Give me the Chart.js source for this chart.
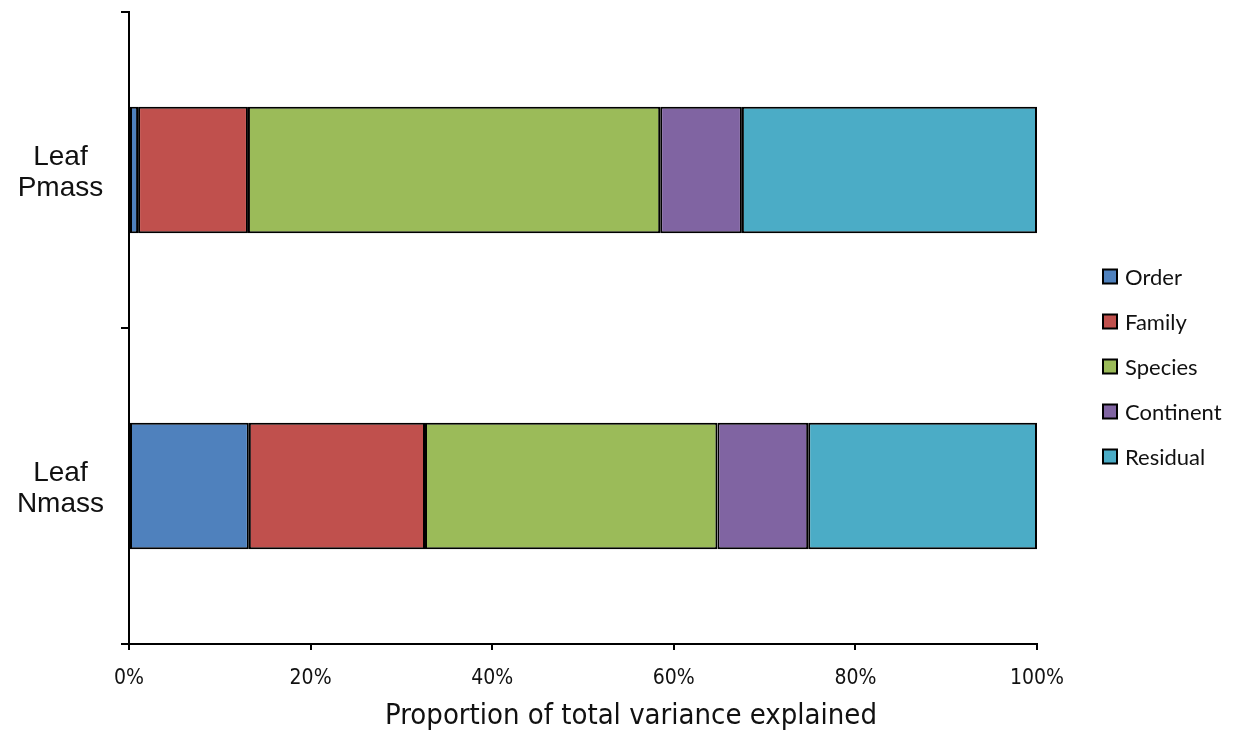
<!DOCTYPE html>
<html>
<head>
<meta charset="utf-8">
<script src="https://cdn.jsdelivr.net/npm/chart.js@4/dist/chart.umd.min.js"></script>
<style>
  html, body { margin: 0; padding: 0; background: #fff; }
  #wrap { width: 1238px; height: 733px; }
</style>
</head>
<body>
<div id="wrap"><canvas id="c" width="1238" height="733"></canvas></div>
<script>
// Traits (rows) and variance components (stacked segments), in percent
const traits = [["Leaf", "Pmass"], ["Leaf", "Nmass"]];
const components = ["Order", "Family", "Species", "Continent", "Residual"];
const order     = [1.0, 13.2];
const family    = [12.1, 19.4];
const species   = [45.4, 32.2];
const continent = [9.0, 10.0];
const residual  = [32.5, 25.2];
const xTicks = [0, 20, 40, 60, 80, 100];
const xTitle = "Proportion of total variance explained";

const colors = ["#4F81BD", "#C0504D", "#9BBB59", "#8064A2", "#4BACC6"];
const seriesValues = [order, family, species, continent, residual];

const datasets = components.map((name, i) => ({
  label: name,
  data: seriesValues[i],
  backgroundColor: colors[i],
  borderColor: "#000",
  borderWidth: 2,
  borderSkipped: false,
  categoryPercentage: 1.0,
  barPercentage: 0.4
}));

const narrow = "'Liberation Sans Narrow', 'Arial Narrow', 'DejaVu Sans Condensed', sans-serif";

// Legend at the right and the x-axis title, centred under the whole figure
const sideLegend = {
  id: "sideLegend",
  afterDraw(chart) {
    const ctx = chart.ctx;
    const area = chart.chartArea;
    const x = area.right + 66;
    const mid = chart.height / 2;
    const gap = 45;
    const n = chart.data.datasets.length;
    ctx.save();
    ctx.font = "22px Lato, 'Open Sans', sans-serif";
    ctx.textBaseline = "middle";
    ctx.textAlign = "left";
    chart.data.datasets.forEach((ds, i) => {
      const cy = mid + (i - (n - 1) / 2) * gap;
      ctx.fillStyle = ds.backgroundColor;
      ctx.fillRect(x, cy - 7, 14, 14);
      ctx.strokeStyle = "#000";
      ctx.lineWidth = 2;
      ctx.strokeRect(x, cy - 7, 14, 14);
      ctx.fillStyle = "#111";
      ctx.fillText(ds.label, x + 22, cy + 1);
    });

    ctx.font = "29px " + narrow;
    ctx.textAlign = "center";
    ctx.fillStyle = "#111";
    ctx.fillText(xTitle, (area.left + area.right) / 2 + 48, chart.height - 17);
    ctx.restore();
  }
};

new Chart(document.getElementById("c"), {
  type: "bar",
  data: { labels: traits, datasets },
  options: {
    indexAxis: "y",
    responsive: false,
    animation: false,
    devicePixelRatio: 1,
    layout: { padding: { top: 12, right: 201, left: 0, bottom: 0 } },
    plugins: {
      legend: { display: false },
      tooltip: { enabled: false }
    },
    scales: {
      x: {
        stacked: true,
        min: 0,
        max: 100,
        afterBuildTicks(axis) { axis.ticks = xTicks.map(v => ({ value: v })); },
        afterFit(axis) { axis.height = 89; axis.paddingLeft = 0; axis.paddingRight = 0; },
        border: { display: true, color: "#000", width: 2 },
        grid: { drawOnChartArea: false, color: "#000", lineWidth: 2, tickLength: 6 },
        ticks: {
          color: "#111",
          padding: 16,
          maxRotation: 0,
          font: { family: narrow, size: 21 },
          callback: v => v + "%"
        },
        title: { display: false }
      },
      y: {
        stacked: true,
        offset: true,
        afterFit(axis) { axis.width = 129; axis.paddingTop = 0; axis.paddingBottom = 0; },
        border: { display: true, color: "#000", width: 2 },
        grid: { offset: true, drawOnChartArea: false, color: "#000", lineWidth: 2, tickLength: 8 },
        ticks: {
          color: "#111",
          crossAlign: "center",
          padding: 17,
          labelOffset: 3,
          font: { family: "'Liberation Sans', Arial, sans-serif", size: 28, lineHeight: 1.12 }
        }
      }
    }
  },
  plugins: [sideLegend]
});
</script>
</body>
</html>
